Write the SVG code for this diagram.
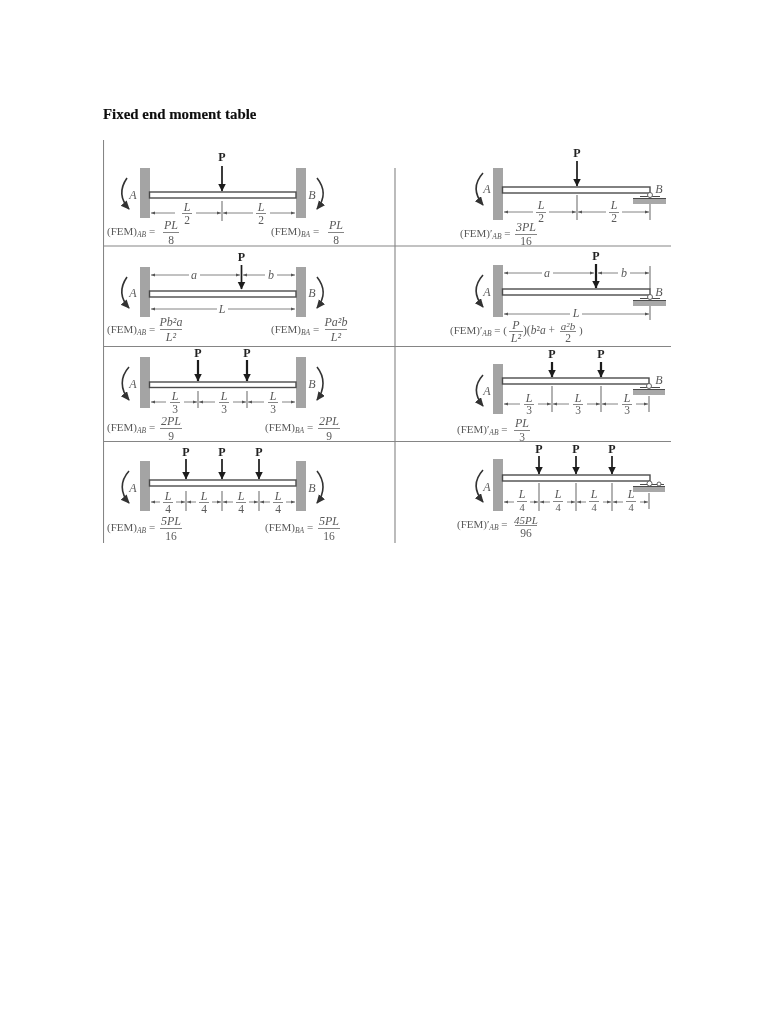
<svg xmlns="http://www.w3.org/2000/svg" width="768" height="1024" viewBox="0 0 768 1024">
<style>
text{font-family:"Liberation Serif","Times New Roman",serif;fill:#5a5a5a;font-size:11px}
.title{font-size:14.9px;font-weight:bold;fill:#111;stroke:#111;stroke-width:.15}
.p{font-size:12px;font-weight:bold;fill:#222;text-anchor:middle}
.i{font-style:italic}
.c{text-anchor:middle;font-size:11.500px}
.i.c{font-size:12px}
.s{font-size:7.500px}
.tb{stroke:#858585;stroke-width:1.1;fill:none}
.wall{fill:#a4a4a4}
.beam{fill:#fff;stroke:#4c4c4c;stroke-width:1.400}
.load{stroke:#1c1c1c;stroke-width:1.700;fill:none;marker-end:url(#head)}
.mom{stroke:#333;stroke-width:1.600;fill:none;marker-end:url(#mh)}
.dim{stroke:#666;stroke-width:.8;fill:none;marker-end:url(#dh)}
.tick{stroke:#555;stroke-width:.9;fill:none}
.bar{stroke:#666;stroke-width:.8;fill:none}
.sup{fill:#a8a8a8}
.plate{stroke:#4c4c4c;stroke-width:1.100;fill:none}
.pin{fill:#fff;stroke:#555;stroke-width:.9}
</style>
<defs>
<marker id="head" markerUnits="userSpaceOnUse" markerWidth="9" markerHeight="9" refX="7.500" refY="4" orient="auto"><path d="M0 0L8 4L0 8z" fill="#1c1c1c"/></marker>
<marker id="mh" markerUnits="userSpaceOnUse" markerWidth="11" markerHeight="9" refX="8" refY="4" orient="auto"><path d="M0 0L9 4L0 8z" fill="#333"/></marker>
<marker id="dh" markerUnits="userSpaceOnUse" markerWidth="5" markerHeight="4" refX="4" refY="2" orient="auto"><path d="M0 .5L4 2L0 3.500z" fill="#555"/></marker>
<filter id="soft" x="0" y="0" width="1" height="1" filterUnits="objectBoundingBox"><feGaussianBlur stdDeviation=".35"/></filter>
</defs>
<rect width="768" height="1024" fill="#fff"/>
<g filter="url(#soft)">
<text class="title" x="103" y="119">Fixed end moment table</text>
<g id="table">
<path class="tb" d="M103.500 140V543M395 168V543M103 246H671M103 346.500H671M103 441.500H671"/>
</g>

<g id="cell-1-left">
<rect class="wall" x="140" y="168" width="10" height="50"/><rect class="wall" x="296" y="168" width="10" height="50"/>
<rect class="beam" x="149.500" y="192" width="146.500" height="6"/>
<text class="i c" x="133" y="199">A</text><text class="i c" x="312" y="199">B</text>
<text class="p" x="222" y="161">P</text>
<path class="load" d="M222 166V191"/>
<path class="tick" d="M222 201V221"/>
<path class="mom" d="M127 178C120 188 120 199 129 209"/><path class="mom" d="M317 178C325 188 325 199 317 209"/>
<path class="dim" d="M175 213H151"/><path class="dim" d="M196 213H221"/><path class="dim" d="M253 213H223"/><path class="dim" d="M270 213H295"/>
<text class="i c" x="187" y="211">L</text><path class="bar" d="M182 213.500H192"/><text class="c" x="187" y="224">2</text>
<text class="i c" x="261" y="211">L</text><path class="bar" d="M256 213.500H266"/><text class="c" x="261" y="224">2</text>
<text x="107" y="235">(FEM)<tspan class="i s" dy="2">AB</tspan><tspan dy="-2"> =</tspan></text>
<text class="i c" x="171" y="229">PL</text><path class="bar" d="M163 232.500H179"/><text class="c" x="171" y="244">8</text>
<text x="271" y="235">(FEM)<tspan class="i s" dy="2">BA</tspan><tspan dy="-2"> =</tspan></text>
<text class="i c" x="336" y="229">PL</text><path class="bar" d="M328 232.500H344"/><text class="c" x="336" y="244">8</text>
</g>

<g id="cell-1-right">
<rect class="wall" x="493" y="168" width="10" height="52"/>
<rect class="beam" x="502.500" y="187" width="147.500" height="6"/>
<text class="i c" x="487" y="193">A</text><text class="i c" x="659" y="193">B</text>
<text class="p" x="577" y="157">P</text>
<path class="load" d="M577 161V186"/>
<path class="tick" d="M577 195V220M650 195V220"/>
<path class="mom" d="M483 173C474 183 474 194 483 205"/>
<path class="dim" d="M533 212H504"/><path class="dim" d="M549 212H576"/><path class="dim" d="M606 212H578"/><path class="dim" d="M622 212H649"/>
<text class="i c" x="541" y="209">L</text><path class="bar" d="M536 212.500H546"/><text class="c" x="541" y="222">2</text>
<text class="i c" x="614" y="209">L</text><path class="bar" d="M609 212.500H619"/><text class="c" x="614" y="222">2</text>
<rect class="sup" x="633" y="199" width="33" height="5"/><path class="plate" d="M633 198.500H666M640 196.500H660"/><circle class="pin" cx="650" cy="195" r="2.500"/>
<text x="460" y="237">(FEM)′<tspan class="i s" dy="2">AB</tspan><tspan dy="-2"> =</tspan></text>
<text class="i c" x="526" y="231">3PL</text><path class="bar" d="M515 234.500H537"/><text class="c" x="526" y="245">16</text>
</g>

<g id="cell-2-left">
<rect class="wall" x="140" y="267" width="10" height="50"/><rect class="wall" x="296" y="267" width="10" height="50"/>
<rect class="beam" x="149.500" y="291" width="146.500" height="6"/>
<text class="i c" x="133" y="297">A</text><text class="i c" x="312" y="297">B</text>
<text class="p" x="241.500" y="261">P</text>
<path class="load" d="M241.500 265V289"/>
<path class="mom" d="M127 277C120 287 120 298 129 308"/><path class="mom" d="M317 277C325 287 325 298 317 308"/>
<path class="dim" d="M189 275H151"/><path class="dim" d="M200 275H240"/><path class="dim" d="M265 275H243"/><path class="dim" d="M277 275H295"/>
<path class="dim" d="M217 309H151"/><path class="dim" d="M228 309H295"/>
<text class="i c" x="194" y="279">a</text><text class="i c" x="271" y="279">b</text><text class="i c" x="222" y="313">L</text>
<text x="107" y="333">(FEM)<tspan class="i s" dy="2">AB</tspan><tspan dy="-2"> =</tspan></text>
<text class="i c" x="171" y="326">Pb²a</text><path class="bar" d="M160 329.500H182"/><text class="i c" x="171" y="341">L²</text>
<text x="271" y="333">(FEM)<tspan class="i s" dy="2">BA</tspan><tspan dy="-2"> =</tspan></text>
<text class="i c" x="336" y="326">Pa²b</text><path class="bar" d="M325 329.500H347"/><text class="i c" x="336" y="341">L²</text>
</g>

<g id="cell-2-right">
<rect class="wall" x="493" y="265" width="10" height="52"/>
<rect class="beam" x="502.500" y="289" width="147.500" height="6"/>
<text class="i c" x="487" y="296">A</text><text class="i c" x="659" y="296">B</text>
<text class="p" x="596" y="260">P</text>
<path class="load" d="M596 264V288" style="stroke-width:2.200"/>
<path class="tick" d="M650 266V289M650 306V320"/>
<path class="mom" d="M483 275C474 285 474 296 483 307"/>
<path class="dim" d="M542 273H504"/><path class="dim" d="M553 273H594"/><path class="dim" d="M618 273H598"/><path class="dim" d="M630 273H649"/>
<path class="dim" d="M570 314H504"/><path class="dim" d="M582 314H649"/>
<text class="i c" x="547" y="277">a</text><text class="i c" x="624" y="277">b</text><text class="i c" x="576" y="316.500">L</text>
<rect class="sup" x="633" y="301" width="33" height="5"/><path class="plate" d="M633 300.500H666M640 298.500H660"/><circle class="pin" cx="650" cy="297" r="2.500"/>
<text x="450" y="334">(FEM)′<tspan class="i s" dy="2">AB</tspan><tspan dy="-2"> = (</tspan></text>
<text class="i c" x="516" y="329">P</text><path class="bar" d="M509 331.500H523"/><text class="i c" x="516" y="342">L²</text>
<text x="523" y="334" style="font-size:11.500px">)(<tspan class="i">b</tspan>²<tspan class="i">a</tspan> +</text>
<text class="i c" x="568" y="329.500" style="font-size:11px">a²b</text><path class="bar" d="M560 331.500H576"/><text class="c" x="568" y="342">2</text>
<text x="579" y="334">)</text>
</g>

<g id="cell-3-left">
<rect class="wall" x="140" y="357" width="10" height="51"/><rect class="wall" x="296" y="357" width="10" height="51"/>
<rect class="beam" x="149.500" y="382" width="146.500" height="5.500"/>
<text class="i c" x="133" y="388">A</text><text class="i c" x="312" y="388">B</text>
<text class="p" x="198" y="357">P</text><text class="p" x="247" y="357">P</text>
<path class="load" d="M198 360V381" style="stroke-width:2.200"/><path class="load" d="M247 360V381" style="stroke-width:2.200"/>
<path class="tick" d="M198 391V408M247 391V408"/>
<path class="mom" d="M129 367C120 377 120 389 129 400"/><path class="mom" d="M317 367C325 377 325 389 317 400"/>
<path class="dim" d="M166 402H151"/><path class="dim" d="M184 402H197"/><path class="dim" d="M215 402H199"/><path class="dim" d="M233 402H246"/><path class="dim" d="M264 402H248"/><path class="dim" d="M282 402H295"/>
<text class="i c" x="175" y="400">L</text><path class="bar" d="M170 402.500H180"/><text class="c" x="175" y="413">3</text>
<text class="i c" x="224" y="400">L</text><path class="bar" d="M219 402.500H229"/><text class="c" x="224" y="413">3</text>
<text class="i c" x="273" y="400">L</text><path class="bar" d="M268 402.500H278"/><text class="c" x="273" y="413">3</text>
<text x="107" y="431">(FEM)<tspan class="i s" dy="2">AB</tspan><tspan dy="-2"> =</tspan></text>
<text class="i c" x="171" y="425">2PL</text><path class="bar" d="M160 428.500H182"/><text class="c" x="171" y="440">9</text>
<text x="265" y="431">(FEM)<tspan class="i s" dy="2">BA</tspan><tspan dy="-2"> =</tspan></text>
<text class="i c" x="329" y="425">2PL</text><path class="bar" d="M318 428.500H340"/><text class="c" x="329" y="440">9</text>
</g>

<g id="cell-3-right">
<rect class="wall" x="493" y="364" width="10" height="50"/>
<rect class="beam" x="502.500" y="378" width="146.500" height="6"/>
<text class="i c" x="487" y="395">A</text><text class="i c" x="659" y="384">B</text>
<text class="p" x="552" y="358">P</text><text class="p" x="601" y="358">P</text>
<path class="load" d="M552 362V377" style="stroke-width:2.200"/><path class="load" d="M601 362V377" style="stroke-width:2.200"/>
<path class="tick" d="M552 386V412M601 386V412M649 396V412"/>
<path class="mom" d="M483 375C474 385 474 395 483 406"/>
<path class="dim" d="M520 404H504"/><path class="dim" d="M538 404H551"/><path class="dim" d="M569 404H553"/><path class="dim" d="M587 404H600"/><path class="dim" d="M618 404H602"/><path class="dim" d="M636 404H648"/>
<text class="i c" x="529" y="402">L</text><path class="bar" d="M524 404.500H534"/><text class="c" x="529" y="414">3</text>
<text class="i c" x="578" y="402">L</text><path class="bar" d="M573 404.500H583"/><text class="c" x="578" y="414">3</text>
<text class="i c" x="627" y="402">L</text><path class="bar" d="M622 404.500H632"/><text class="c" x="627" y="414">3</text>
<rect class="sup" x="633" y="390" width="32" height="5"/><path class="plate" d="M633 389.500H665M640 387.500H660"/><circle class="pin" cx="649" cy="386" r="2.500"/>
<text x="457" y="433">(FEM)′<tspan class="i s" dy="2">AB</tspan><tspan dy="-2"> =</tspan></text>
<text class="i c" x="522" y="427">PL</text><path class="bar" d="M514 430.500H530"/><text class="c" x="522" y="441">3</text>
</g>

<g id="cell-4-left">
<rect class="wall" x="140" y="461" width="10" height="50"/><rect class="wall" x="296" y="461" width="10" height="50"/>
<rect class="beam" x="149.500" y="480" width="146.500" height="6"/>
<text class="i c" x="133" y="492">A</text><text class="i c" x="312" y="492">B</text>
<text class="p" x="186" y="456">P</text><text class="p" x="222" y="456">P</text><text class="p" x="259" y="456">P</text>
<path class="load" d="M186 459V479"/><path class="load" d="M222 459V479"/><path class="load" d="M259 459V479"/>
<path class="tick" d="M186 491V511M222 491V511M259 491V511"/>
<path class="mom" d="M129 471C120 481 120 493 129 503"/><path class="mom" d="M317 471C325 481 325 493 317 503"/>
<path class="dim" d="M160 502H151"/><path class="dim" d="M176 502H185"/><path class="dim" d="M196 502H187"/><path class="dim" d="M212 502H221"/><path class="dim" d="M233 502H223"/><path class="dim" d="M249 502H258"/><path class="dim" d="M270 502H260"/><path class="dim" d="M286 502H295"/>
<text class="i c" x="168" y="500">L</text><path class="bar" d="M163 502.500H173"/><text class="c" x="168" y="513">4</text>
<text class="i c" x="204" y="500">L</text><path class="bar" d="M199 502.500H209"/><text class="c" x="204" y="513">4</text>
<text class="i c" x="241" y="500">L</text><path class="bar" d="M236 502.500H246"/><text class="c" x="241" y="513">4</text>
<text class="i c" x="278" y="500">L</text><path class="bar" d="M273 502.500H283"/><text class="c" x="278" y="513">4</text>
<text x="107" y="531">(FEM)<tspan class="i s" dy="2">AB</tspan><tspan dy="-2"> =</tspan></text>
<text class="i c" x="171" y="525">5PL</text><path class="bar" d="M160 528.500H182"/><text class="c" x="171" y="540">16</text>
<text x="265" y="531">(FEM)<tspan class="i s" dy="2">BA</tspan><tspan dy="-2"> =</tspan></text>
<text class="i c" x="329" y="525">5PL</text><path class="bar" d="M318 528.500H340"/><text class="c" x="329" y="540">16</text>
</g>

<g id="cell-4-right">
<rect class="wall" x="493" y="459" width="10" height="52"/>
<rect class="beam" x="502.500" y="475" width="147.500" height="6"/>
<text class="i c" x="487" y="491">A</text>
<text class="p" x="539" y="453">P</text><text class="p" x="576" y="453">P</text><text class="p" x="612" y="453">P</text>
<path class="load" d="M539 456V474"/><path class="load" d="M576 456V474"/><path class="load" d="M612 456V474"/>
<path class="tick" d="M539 483V511M576 483V511M612 483V511M649 493V509"/>
<path class="mom" d="M483 470C474 480 474 491 483 502"/>
<path class="dim" d="M514 502H504"/><path class="dim" d="M530 502H538"/><path class="dim" d="M550 502H540"/><path class="dim" d="M567 502H575"/><path class="dim" d="M586 502H577"/><path class="dim" d="M603 502H611"/><path class="dim" d="M623 502H613"/><path class="dim" d="M640 502H648"/>
<text class="i c" x="522" y="498">L</text><path class="bar" d="M517 501.500H527"/><text class="c" x="522" y="511" style="font-size:10.500px">4</text>
<text class="i c" x="558" y="498">L</text><path class="bar" d="M553 501.500H563"/><text class="c" x="558" y="511" style="font-size:10.500px">4</text>
<text class="i c" x="594" y="498">L</text><path class="bar" d="M589 501.500H599"/><text class="c" x="594" y="511" style="font-size:10.500px">4</text>
<text class="i c" x="631" y="498">L</text><path class="bar" d="M626 501.500H636"/><text class="c" x="631" y="511" style="font-size:10.500px">4</text>
<rect class="sup" x="633" y="487" width="32" height="5"/><path class="plate" d="M633 486.500H665M640 484.500H664"/><circle class="pin" cx="649.500" cy="483.500" r="2.500"/><circle class="pin" cx="659" cy="484" r="2"/>
<text x="457" y="528">(FEM)′<tspan class="i s" dy="2">AB</tspan><tspan dy="-2"> =</tspan></text>
<text class="i c" x="526" y="524" style="font-size:11px">45PL</text><path class="bar" d="M515 525.500H537"/><text class="c" x="526" y="537">96</text>
</g>
</g>
</svg>
